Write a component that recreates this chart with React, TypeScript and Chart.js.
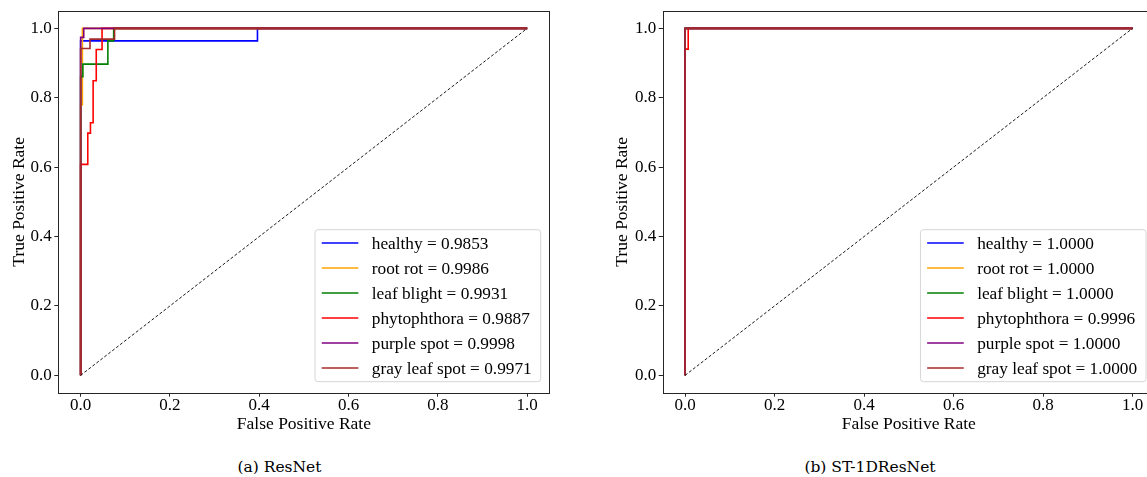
import React, { useEffect, useRef } from "react";
import { Chart, registerables } from "chart.js";

Chart.register(...registerables);

// ---------- data ----------
const classNames = ["healthy", "root rot", "leaf blight", "phytophthora", "purple spot", "gray leaf spot"];
const classColors = ["#0000ff", "#ffa500", "#008000", "#ff0000", "#800080", "#a52a2a"];
const resnetAuc = ["0.9853", "0.9986", "0.9931", "0.9887", "0.9998", "0.9971"];
const st1dAuc = ["1.0000", "1.0000", "1.0000", "0.9996", "1.0000", "1.0000"];
const tickValues = [0, 0.2, 0.4, 0.6, 0.8, 1.0];
const diagonalX = [0, 1];
const diagonalY = [0, 1];

// ResNet ROC curves (FPR / TPR)
const resHealthyFpr = [0, 0, 0.396, 0.396, 1];
const resHealthyTpr = [0, 0.964, 0.964, 1, 1];
const resRootRotFpr = [0, 0, 0.004, 0.004, 1];
const resRootRotTpr = [0, 0.78, 0.78, 1, 1];
const resLeafBlightFpr = [0, 0, 0.005, 0.005, 0.061, 0.061, 0.074, 0.074, 1];
const resLeafBlightTpr = [0, 0.861, 0.861, 0.897, 0.897, 0.964, 0.964, 1, 1];
const resPhytoFpr = [0, 0, 0.016, 0.016, 0.022, 0.022, 0.028, 0.028, 0.035, 0.035, 0.048, 0.048, 1];
const resPhytoTpr = [0, 0.608, 0.608, 0.698, 0.698, 0.728, 0.728, 0.849, 0.849, 0.939, 0.939, 1, 1];
const resPurpleFpr = [0, 0, 0.007, 0.007, 1];
const resPurpleTpr = [0, 0.974, 0.974, 1, 1];
const resGrayFpr = [0, 0, 0.021, 0.021, 0.076, 0.076, 1];
const resGrayTpr = [0, 0.942, 0.942, 0.969, 0.969, 1, 1];

// ST-1DResNet ROC curves
const stPerfectFpr = [0, 0, 1];
const stPerfectTpr = [0, 1, 1];
const stPhytoFpr = [0, 0, 0.007, 0.007, 1];
const stPhytoTpr = [0, 0.94, 0.94, 1, 1];

const resnetCurves = [
  [resHealthyFpr, resHealthyTpr],
  [resRootRotFpr, resRootRotTpr],
  [resLeafBlightFpr, resLeafBlightTpr],
  [resPhytoFpr, resPhytoTpr],
  [resPurpleFpr, resPurpleTpr],
  [resGrayFpr, resGrayTpr],
];
const st1dCurves = [
  [stPerfectFpr, stPerfectTpr],
  [stPerfectFpr, stPerfectTpr],
  [stPerfectFpr, stPerfectTpr],
  [stPhytoFpr, stPhytoTpr],
  [stPerfectFpr, stPerfectTpr],
  [stPerfectFpr, stPerfectTpr],
];

const SERIF = "'Liberation Serif', 'Times New Roman', serif";

const framePlugin = {
  id: "frameAndLegend",
  afterDraw(chart: any) {
    const { ctx, chartArea } = chart;
    const a = chartArea;
    ctx.save();
    ctx.strokeStyle = "#262626";
    ctx.lineWidth = 1;
    ctx.strokeRect(Math.round(a.left) + 0.5, Math.round(a.top) + 0.5, Math.round(a.right - a.left), Math.round(a.bottom - a.top));

    const opts = chart.options.plugins.frameAndLegend;
    if (opts && opts.labels) {
      const labels: string[] = opts.labels;
      const colors: string[] = opts.colors;
      ctx.font = `17.3px ${SERIF}`;
      let maxW = 0;
      labels.forEach((l) => (maxW = Math.max(maxW, ctx.measureText(l).width)));
      const w = 56.7 + maxW + 9;
      const h = 152;
      const right = a.right - 8.8;
      const bottom = a.bottom - 11;
      const left = right - w;
      const top = bottom - h;
      const r = 3;
      ctx.beginPath();
      ctx.moveTo(left + r, top);
      ctx.lineTo(right - r, top);
      ctx.arcTo(right, top, right, top + r, r);
      ctx.lineTo(right, bottom - r);
      ctx.arcTo(right, bottom, right - r, bottom, r);
      ctx.lineTo(left + r, bottom);
      ctx.arcTo(left, bottom, left, bottom - r, r);
      ctx.lineTo(left, top + r);
      ctx.arcTo(left, top, left + r, top, r);
      ctx.closePath();
      ctx.fillStyle = "rgba(255,255,255,0.8)";
      ctx.fill();
      ctx.strokeStyle = "#d6d6d6";
      ctx.lineWidth = 1;
      ctx.stroke();
      labels.forEach((l, i) => {
        const cy = top + 13.3 + i * 25;
        ctx.strokeStyle = colors[i];
        ctx.lineWidth = 1.5;
        ctx.beginPath();
        ctx.moveTo(left + 6.7, cy);
        ctx.lineTo(left + 43.3, cy);
        ctx.stroke();
        ctx.fillStyle = "#000";
        ctx.textBaseline = "middle";
        ctx.textAlign = "left";
        ctx.fillText(l, left + 56.7, cy + 1);
      });
    }
    ctx.restore();
  },
};

type PanelProps = {
  left: number;
  wrapWidth: number;
  curves: number[][][];
  auc: string[];
  areaLeft: number;
  areaRight: number;
  yTitlePad: number;
};

const CANVAS_W = 570;
const CANVAS_H = 445;
const AREA_TOP = 10;
const AREA_BOTTOM = 392.7;

function RocPanel(props: PanelProps) {
  const ref = useRef<HTMLCanvasElement | null>(null);
  useEffect(() => {
    if (!ref.current) return;
    const datasets: any[] = props.curves.map((c, i) => ({
      label: `${classNames[i]} = ${props.auc[i]}`,
      data: c[0].map((x, k) => ({ x, y: c[1][k] })),
      borderColor: classColors[i],
      backgroundColor: classColors[i],
      borderWidth: 1.6,
      pointRadius: 0,
      fill: false,
      tension: 0,
      order: classNames.length - i + 1,
    }));
    datasets.push({
      label: "diagonal",
      data: diagonalX.map((x, k) => ({ x, y: diagonalY[k] })),
      borderColor: "#000000",
      borderWidth: 0.9,
      borderDash: [3, 2],
      pointRadius: 0,
      fill: false,
      order: 0,
    });
    const tickFont = { family: SERIF, size: 17, lineHeight: 1 };
    const chart = new Chart(ref.current, {
      type: "line",
      data: { datasets },
      plugins: [framePlugin],
      options: {
        animation: false,
        responsive: false,
        devicePixelRatio: 1,
        layout: {
          padding: { left: 0, top: AREA_TOP, right: CANVAS_W - props.areaRight, bottom: 0 },
        },
        plugins: {
          legend: { display: false },
          tooltip: { enabled: false },
          frameAndLegend: {
            labels: props.curves.map((_, i) => `${classNames[i]} = ${props.auc[i]}`),
            colors: classColors,
          },
        } as any,
        scales: {
          x: {
            type: "linear",
            min: -0.05,
            max: 1.05,
            afterBuildTicks: (s: any) => {
              s.ticks = tickValues.map((v) => ({ value: v }));
            },
            afterFit: (s: any) => {
              s.height = CANVAS_H - AREA_BOTTOM;
            },
            grid: { drawOnChartArea: false, drawTicks: true, tickLength: 4, color: "#262626", tickWidth: 1 },
            border: { display: false },
            ticks: {
              color: "#000",
              font: tickFont,
              padding: 0,
              maxRotation: 0,
              autoSkip: false,
              callback: (v: any) => Number(v).toFixed(1),
            },
            title: {
              display: true,
              text: "False Positive Rate",
              color: "#000",
              font: { family: SERIF, size: 17.5, lineHeight: 1.2 },
              padding: { top: 0, bottom: 10 },
            },
          },
          y: {
            type: "linear",
            min: -0.05,
            max: 1.05,
            afterBuildTicks: (s: any) => {
              s.ticks = tickValues.map((v) => ({ value: v }));
            },
            afterFit: (s: any) => {
              s.width = props.areaLeft;
            },
            grid: { drawOnChartArea: false, drawTicks: true, tickLength: 4, color: "#262626", tickWidth: 1 },
            border: { display: false },
            ticks: {
              color: "#000",
              font: tickFont,
              padding: 2.5,
              autoSkip: false,
              callback: (v: any) => Number(v).toFixed(1),
            },
            title: {
              display: true,
              text: "True Positive Rate",
              color: "#000",
              font: { family: SERIF, size: 17.5, lineHeight: 1.2 },
              padding: { top: props.yTitlePad, bottom: 0 },
            },
          },
        },
      } as any,
    });
    return () => chart.destroy();
  }, []);
  return (
    <div
      style={{
        position: "absolute",
        left: props.left,
        top: 0,
        width: props.wrapWidth,
        height: CANVAS_H,
        overflow: "hidden",
      }}
    >
      <canvas ref={ref} width={CANVAS_W} height={CANVAS_H} style={{ width: CANVAS_W, height: CANVAS_H, display: "block" }} />
    </div>
  );
}

const captionStyle: React.CSSProperties = {
  position: "absolute",
  top: 458,
  transform: "translateX(-50%)",
  fontFamily: "'DejaVu Serif', serif",
  fontSize: 15.5,
  lineHeight: "18px",
  whiteSpace: "nowrap",
  color: "#000",
};

export default function App() {
  return (
    <div style={{ position: "absolute", left: 0, top: 0, width: 1147, height: 477, background: "#fff", overflow: "hidden" }}>
      <RocPanel left={0} wrapWidth={570} curves={resnetCurves} auc={resnetAuc} areaLeft={58.3} areaRight={549.5} yTitlePad={8.5} />
      <RocPanel left={600} wrapWidth={547} curves={st1dCurves} auc={st1dAuc} areaLeft={62.7} areaRight={554.9} yTitlePad={11.5} />
      <div style={{ ...captionStyle, left: 279.5 }}>(a) ResNet</div>
      <div style={{ ...captionStyle, left: 870 }}>(b) ST-1DResNet</div>
    </div>
  );
}
